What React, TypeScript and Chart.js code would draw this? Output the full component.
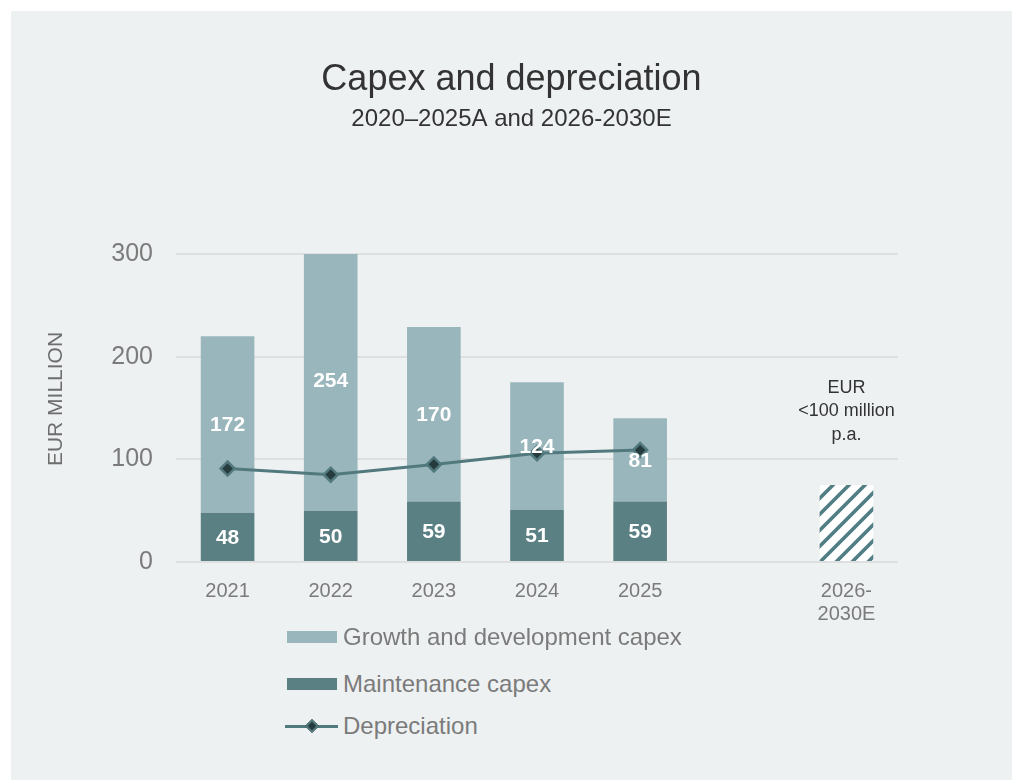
import React, { useEffect, useRef } from "react";
import { Chart, registerables } from "chart.js";

Chart.register(...registerables);

// ---- data ----
const categories: (string | string[])[] = ["2021", "2022", "2023", "2024", "2025", "", ["2026-", "2030E"]];
const growthCapex: (number | null)[] = [172, 254, 170, 124, 81, null, null];
const maintenanceCapex: (number | null)[] = [48, 50, 59, 51, 59, null, null];
const depreciation: (number | null)[] = [91, 85, 95, 106, 109, null, null];
const outlookCapex: (number | null)[] = [null, null, null, null, null, null, 75];
const outlookNote = ["EUR", "<100 million", "p.a."];
const yTickValues = [0, 100, 200, 300];
const seriesLabels = ["Growth and development capex", "Maintenance capex", "Depreciation"];
const titleText = "Capex and depreciation";
const subtitleText = "2020–2025A and 2026-2030E";
const yAxisTitle = "EUR MILLION";

// ---- styles ----
const FONT = "'Liberation Sans', Arial, sans-serif";
const PANEL = "#eef1f2";
const GROWTH = "#98b6bb";
const MAINT = "#5a8084";
const LINE = "#52797e";
const MARKER = "#263b3d";
const HATCH = "#517e83";
const GRID = "#dedfdf";
const TICK = "#7b7b7b";
const DARK = "#333333";

function makeHatch(ctx: CanvasRenderingContext2D): CanvasPattern | string {
  const c = document.createElement("canvas");
  c.width = 16;
  c.height = 16;
  const g = c.getContext("2d");
  if (!g) return HATCH;
  g.fillStyle = "#ffffff";
  g.fillRect(0, 0, 16, 16);
  g.strokeStyle = HATCH;
  g.lineWidth = 3.6;
  g.beginPath();
  g.moveTo(-4, 20);
  g.lineTo(20, -4);
  g.moveTo(-4, 4);
  g.lineTo(4, -4);
  g.moveTo(12, 20);
  g.lineTo(20, 12);
  g.stroke();
  return ctx.createPattern(c, "repeat") || HATCH;
}

const valueLabels = {
  id: "valueLabels",
  afterDatasetsDraw(chart: any) {
    const ctx = chart.ctx as CanvasRenderingContext2D;
    ctx.save();
    ctx.font = `bold 21px ${FONT}`;
    ctx.fillStyle = "#ffffff";
    ctx.textAlign = "center";
    ctx.textBaseline = "middle";
    [1, 2].forEach((di) => {
      const meta = chart.getDatasetMeta(di);
      meta.data.forEach((el: any, i: number) => {
        const v = chart.data.datasets[di].data[i];
        if (v == null) return;
        const p = el.getProps(["x", "y", "base"], true);
        ctx.fillText(String(v), p.x, (p.y + p.base) / 2 + 1);
      });
    });
    // outlook note above hatched bar
    const meta = chart.getDatasetMeta(3);
    meta.data.forEach((el: any, i: number) => {
      const v = chart.data.datasets[3].data[i];
      if (v == null) return;
      const p = el.getProps(["x", "y"], true);
      ctx.font = `18px ${FONT}`;
      ctx.fillStyle = DARK;
      const offs = [-97, -74, -50];
      outlookNote.forEach((t, k) => ctx.fillText(t, p.x, p.y + offs[k]));
    });
    ctx.restore();
  },
};

const yTitlePlugin = {
  id: "yTitlePlugin",
  afterDraw(chart: any) {
    const ctx = chart.ctx as CanvasRenderingContext2D;
    ctx.save();
    ctx.translate(45, 388);
    ctx.rotate(-Math.PI / 2);
    ctx.font = `21px ${FONT}`;
    ctx.fillStyle = "#6e6e6e";
    ctx.textAlign = "center";
    ctx.textBaseline = "middle";
    ctx.fillText(yAxisTitle, 0, 0);
    ctx.restore();
  },
};

export default function App() {
  const ref = useRef<HTMLCanvasElement | null>(null);

  useEffect(() => {
    const canvas = ref.current;
    if (!canvas) return;
    const ctx = canvas.getContext("2d");
    if (!ctx) return;
    const pattern = makeHatch(ctx);
    const chart = new Chart(ctx, {
      type: "bar",
      data: {
        labels: categories as any,
        datasets: [
          {
            type: "line",
            label: seriesLabels[2],
            data: depreciation,
            borderColor: LINE,
            borderWidth: 3,
            pointStyle: "rectRot",
            pointRadius: 7,
            pointBackgroundColor: MARKER,
            pointBorderColor: LINE,
            pointBorderWidth: 2.5,
            stack: "dep",
            order: 0,
            tension: 0,
          } as any,
          {
            type: "bar",
            label: seriesLabels[1],
            data: maintenanceCapex,
            backgroundColor: MAINT,
            stack: "capex",
            order: 1,
          },
          {
            type: "bar",
            label: seriesLabels[0],
            data: growthCapex,
            backgroundColor: GROWTH,
            stack: "capex",
            order: 1,
          },
          {
            type: "bar",
            label: "2026-2030E",
            data: outlookCapex,
            backgroundColor: pattern as any,
            stack: "capex",
            order: 1,
          },
        ],
      },
      options: {
        responsive: false,
        animation: false,
        devicePixelRatio: 1,
        datasets: { bar: { barPercentage: 1, categoryPercentage: 0.52 } },
        layout: { padding: { top: 47.4, right: 0, bottom: 0, left: 0 } },
        plugins: {
          legend: { display: false },
          tooltip: { enabled: false },
          title: {
            display: true,
            text: titleText,
            color: DARK,
            font: { family: FONT, size: 36, weight: "normal" as any, lineHeight: 1.2 },
            padding: { top: 0, bottom: 0 },
          },
          subtitle: {
            display: true,
            text: subtitleText,
            color: DARK,
            font: { family: FONT, size: 24, weight: "normal" as any, lineHeight: 1.2 },
            padding: { top: 3, bottom: 120.6 },
          },
        },
        scales: {
          x: {
            stacked: true,
            grid: { display: false },
            border: { display: false },
            ticks: {
              color: TICK,
              font: { family: FONT, size: 20, lineHeight: 1.15 },
              padding: 9.5,
              maxRotation: 0,
              autoSkip: false,
            },
            afterFit: (s: any) => {
              s.height = 89;
            },
          },
          y: {
            stacked: true,
            min: 0,
            max: 300,
            border: { display: false },
            grid: { color: GRID, lineWidth: 2, drawTicks: false },
            afterBuildTicks: (s: any) => {
              s.ticks = yTickValues.map((v) => ({ value: v }));
            },
            ticks: {
              color: TICK,
              font: { family: FONT, size: 25 },
              padding: 23,
            },
            afterFit: (s: any) => {
              s.width = 165;
            },
          },
          yRight: {
            type: "linear",
            position: "right",
            display: true,
            grid: { display: false, drawTicks: false },
            border: { display: false },
            ticks: { display: false },
            afterFit: (s: any) => {
              s.width = 114;
            },
          },
        },
      },
      plugins: [valueLabels, yTitlePlugin],
    });
    return () => chart.destroy();
  }, []);

  const rowStyle = (center: number): React.CSSProperties => ({
    position: "absolute",
    left: 274,
    top: center - 16,
    height: 32,
    display: "flex",
    alignItems: "center",
    fontFamily: FONT,
    fontSize: 24,
    color: TICK,
    whiteSpace: "nowrap",
  });

  return (
    <div
      style={{
        position: "absolute",
        left: 11,
        top: 11,
        width: 1001,
        height: 769,
        background: PANEL,
        overflow: "hidden",
      }}
    >
      <canvas
        ref={ref}
        width={1001}
        height={640}
        style={{ position: "absolute", left: 0, top: 0, width: 1001, height: 640 }}
      />
      <div style={rowStyle(626)}>
        <div style={{ width: 50, height: 12, background: GROWTH, marginLeft: 2, marginRight: 6 }} />
        <span>{seriesLabels[0]}</span>
      </div>
      <div style={rowStyle(673)}>
        <div style={{ width: 50, height: 12, background: MAINT, marginLeft: 2, marginRight: 6 }} />
        <span>{seriesLabels[1]}</span>
      </div>
      <div style={rowStyle(715)}>
        <div style={{ position: "relative", width: 53, height: 16, marginRight: 5 }}>
          <div style={{ position: "absolute", left: 0, top: 6.5, width: 53, height: 3, background: LINE }} />
          <div
            style={{
              position: "absolute",
              left: 21.5,
              top: 3,
              width: 6,
              height: 6,
              background: MARKER,
              border: `2px solid ${LINE}`,
              transform: "rotate(45deg)",
            }}
          />
        </div>
        <span>{seriesLabels[2]}</span>
      </div>
    </div>
  );
}
